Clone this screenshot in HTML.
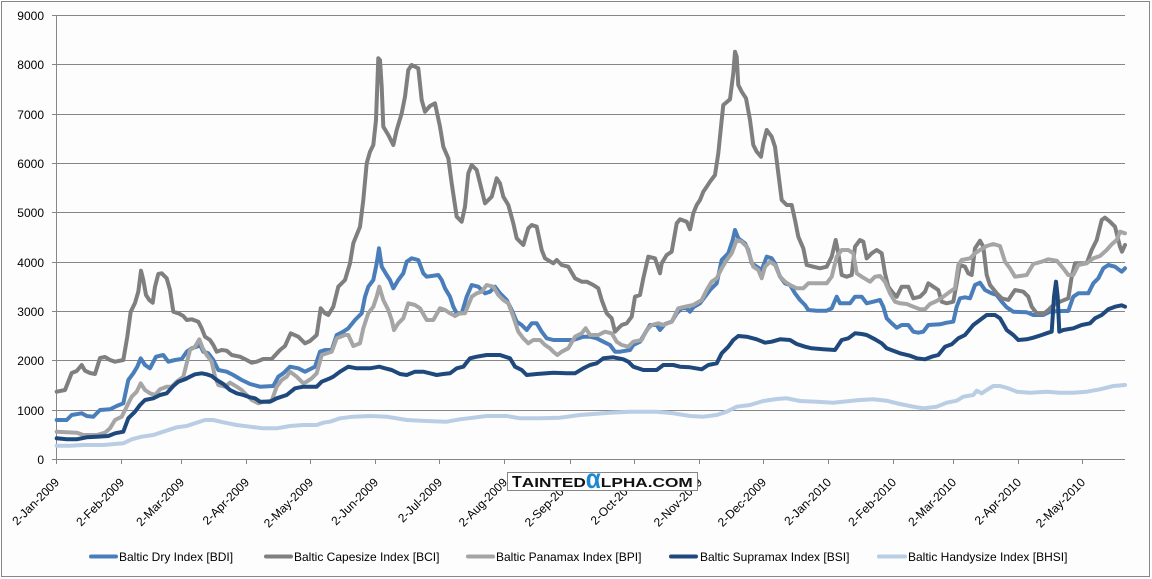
<!DOCTYPE html>
<html><head><meta charset="utf-8"><style>
html,body{margin:0;padding:0;background:#ffffff;}
svg{display:block;}
text{font-family:"Liberation Sans",Arial,sans-serif;}
</style></head><body>
<svg width="1152" height="579" viewBox="0 0 1152 579" xmlns="http://www.w3.org/2000/svg">
<rect x="1.5" y="1.5" width="1148" height="575" fill="#fcfdfc" stroke="#868686" stroke-width="1"/>
<g stroke="#868686" stroke-width="1" shape-rendering="crispEdges">
<line x1="56" y1="15.5" x2="1125" y2="15.5"/>
<line x1="56" y1="64.5" x2="1125" y2="64.5"/>
<line x1="56" y1="114.5" x2="1125" y2="114.5"/>
<line x1="56" y1="163.5" x2="1125" y2="163.5"/>
<line x1="56" y1="212.5" x2="1125" y2="212.5"/>
<line x1="56" y1="262.5" x2="1125" y2="262.5"/>
<line x1="56" y1="311.5" x2="1125" y2="311.5"/>
<line x1="56" y1="360.5" x2="1125" y2="360.5"/>
<line x1="56" y1="410.5" x2="1125" y2="410.5"/>
<line x1="52" y1="459.5" x2="1125" y2="459.5"/>
<line x1="56.5" y1="15" x2="56.5" y2="464"/>
<line x1="52" y1="15.5" x2="56" y2="15.5"/>
<line x1="52" y1="64.5" x2="56" y2="64.5"/>
<line x1="52" y1="114.5" x2="56" y2="114.5"/>
<line x1="52" y1="163.5" x2="56" y2="163.5"/>
<line x1="52" y1="212.5" x2="56" y2="212.5"/>
<line x1="52" y1="262.5" x2="56" y2="262.5"/>
<line x1="52" y1="311.5" x2="56" y2="311.5"/>
<line x1="52" y1="360.5" x2="56" y2="360.5"/>
<line x1="52" y1="410.5" x2="56" y2="410.5"/>
<line x1="121.5" y1="459" x2="121.5" y2="464"/>
<line x1="181.5" y1="459" x2="181.5" y2="464"/>
<line x1="246.5" y1="459" x2="246.5" y2="464"/>
<line x1="310.5" y1="459" x2="310.5" y2="464"/>
<line x1="375.5" y1="459" x2="375.5" y2="464"/>
<line x1="439.5" y1="459" x2="439.5" y2="464"/>
<line x1="504.5" y1="459" x2="504.5" y2="464"/>
<line x1="570.5" y1="459" x2="570.5" y2="464"/>
<line x1="634.5" y1="459" x2="634.5" y2="464"/>
<line x1="699.5" y1="459" x2="699.5" y2="464"/>
<line x1="763.5" y1="459" x2="763.5" y2="464"/>
<line x1="828.5" y1="459" x2="828.5" y2="464"/>
<line x1="893.5" y1="459" x2="893.5" y2="464"/>
<line x1="953.5" y1="459" x2="953.5" y2="464"/>
<line x1="1018.5" y1="459" x2="1018.5" y2="464"/>
<line x1="1082.5" y1="459" x2="1082.5" y2="464"/>
</g>
<g font-size="12" fill="#000" text-anchor="end">
<text x="44" y="20">9000</text>
<text x="44" y="69">8000</text>
<text x="44" y="119">7000</text>
<text x="44" y="168">6000</text>
<text x="44" y="217">5000</text>
<text x="44" y="267">4000</text>
<text x="44" y="316">3000</text>
<text x="44" y="365">2000</text>
<text x="44" y="415">1000</text>
<text x="44" y="464">0</text>
</g>
<g fill="none" stroke-width="4" stroke-linejoin="round" stroke-linecap="round">
<polyline stroke="#4a7ebb" points="56.7,420 66.7,420 71.7,415 81.7,413.3 86.7,416 93.3,416.7 100,410 110,409.3 116.7,406 123.3,403.3 128.3,380 133.3,373.3 137.3,366.7 140.7,358.3 145,365 150,368.3 156,356.7 163.3,355 168.3,361.7 175,360 181.7,359 186.7,351.7 191.7,348.3 196.7,346.7 200,345 203.3,351.7 208.3,353.3 213.3,360 218.3,370 226.7,371.7 233.3,375 241.7,380 250,384 260,386.7 273.3,386 278.3,376.7 283.3,373.3 290,366.7 298.3,368.3 305,371.7 315,366.7 320,351.7 325,350 331.7,350 336.7,335 343.3,331.7 348.3,328.3 355,320 361.7,313.3 365,296.7 368.3,286.7 373.3,280 376.7,263.3 379,248.3 381.7,266.7 386.7,275 390,280 393.3,288.3 398.3,280 403.3,273.3 406.7,261.7 411.7,258.3 418.3,260 423.3,273.3 426.7,276.7 438.3,275 441.7,280 445,288.3 450,296.7 453.3,306.7 456.7,313.3 461.7,313.3 466.7,296.7 471.7,285 478.3,286.7 485,293.3 490,291.7 495,286.7 500,293.3 506.7,300 511.7,310 516.7,321.7 521.7,325 526.7,330 531.7,323.3 536.7,323.3 541.7,331.7 546.7,338.3 553.3,340 560,340 573.3,340 583.3,336.7 590,336.7 596.7,338.3 603.3,341.7 610,345 615,351.7 620,351.7 630,350 633.3,345 640,341.7 645,333.3 650,325 656.7,325 660,330 665,324 671.7,321.7 676.7,313.3 681.7,308.3 686.7,308.3 690,311.7 693.3,307.3 700,303.3 705,296.7 710,290 716.7,283.3 721.7,260 728.3,253.3 732.7,240 735,230 738.3,238.3 745,243.3 748.3,250 751.7,263.3 756.7,266.7 761.7,270 766.7,256.7 771.7,258.3 775,263.3 780,276.7 785,283.3 790,285 795,293.3 800,300 805,305 808.3,310 816.7,310.7 826.7,310.7 831.7,308.3 836.7,296.7 840,303.3 850,303.3 855,296.7 861.7,296.7 866.7,303.3 873.3,301.7 880,300 883.3,306.7 886.7,318.3 891.7,323.3 896.7,327.7 901.7,325 908.3,325 913.3,331.7 918.3,332.7 923.3,331.7 928.3,325 940,324.3 946.7,322.7 953.3,321.7 956.7,306.7 960,298.3 965,297.3 970,298.3 975,285 980,282.7 985,290 991.7,293.3 996.7,295 1001.7,301.7 1006.7,307.3 1013.3,311.7 1026.7,312.3 1033.3,315 1043.3,315 1050,311.7 1060,311 1068.3,311 1073.3,296.7 1078.3,293.3 1088.3,293.3 1093.3,283.3 1098.3,278.3 1103.3,268.3 1108.3,265 1115,266.7 1121.7,271.7 1125,268.3"/>
<polyline stroke="#7f7f7f" points="56.7,391.7 65,390 71.7,373 76.7,371 81.7,365 85,370.7 90,373 95,374 100,358 105,357 110,360 115,361.7 123.3,360 127.3,336.7 130.7,311.7 135,303 138.3,291.7 141,270.7 143.3,280 146,295 149.3,300 152.7,302.7 155,286.7 158.3,274 161.7,273.3 166.7,278.3 170,290 173.3,311.7 178.3,313.3 183.3,316 186.7,320 191.7,319.3 198.3,321.7 201.7,328.3 205,336.7 210,340 213.3,345 216.7,351.7 221.7,350 226.7,350.7 231.7,355 240,356.7 246.7,360 251.7,362.7 256.7,361.7 263.3,359 271.7,359 280,350 285,346 290.7,333.3 298.3,336.7 305,343.3 310,341 316.7,335 320.7,308.3 325,313.3 328.3,315 333.3,306.7 338.3,286.7 345,280 350,263.3 353.3,243.3 360,226.7 363.3,200 366.7,163.3 370,151.7 373.3,145 376,120 378.3,58.3 380,60 381.7,86.7 383.3,126.7 388.3,135 393.3,145 396.7,130 401.7,113.3 405,96.7 408.3,70 411.7,65 418.3,68.3 421.7,100 425,111.7 430,106 435,103.3 440,126.7 443.3,146.7 448.3,158.3 451.7,183.3 456.7,216.7 461.7,221.7 465,206.7 468.3,173.3 471.7,165 476.7,170 481.7,190 485,203.3 491.7,196.7 496.7,178.3 500,183.3 503.3,196.7 508.3,205 513.3,223.3 516.7,238.3 523.3,245 528.3,228.3 531.7,225 536.7,226.7 541.7,250 545,258.3 553.3,263.3 556.7,260 561.7,265 568.3,266.7 575,278.3 581.7,281.7 586.7,281.7 593.3,285 598.3,288.3 601.7,300 606.7,313.3 611.7,318.3 615,331.7 618.3,328.3 621.7,325 626.7,323.3 631.7,316.7 635,296.7 640,295 643.3,278.3 648.3,256.7 655,258.3 660,273.3 661.7,263.3 666.7,255 671.7,251.7 676.7,223.3 680,219.3 686.7,221.7 690,229.3 693.3,213.3 696.7,205 700,200 703.3,191.7 706.7,186.7 710,181.7 715,175 718.3,153.3 721.7,120 723.3,105 730,99.3 733.3,73.3 735,51.7 736.7,56.7 738.3,85 741.7,91.7 746,98.3 750,120 753.3,145 756.7,151.7 761,156.7 763.3,143.3 766.7,130 771.7,136.7 775,146.7 778.3,173.3 781.7,200 786.7,205 791.7,205 795,220 798.3,236.7 803.3,248.3 806.7,265 813.3,266.7 820,268.3 826.7,266.7 831.7,256.7 835.7,240 838.3,253.3 841.7,275 846.7,276.7 851.7,275 855,246.7 860,240 863.3,241.7 866.7,258.3 871.7,253.3 876.7,250 881.7,253.3 885,273.3 888.3,286.7 893.3,293.3 896.7,296.7 901.7,286.7 908.3,286.7 913.3,298.3 920,296.7 925,291.7 928.3,283.3 933.3,286.7 938.3,290 941.7,301.7 946.7,303.3 953.3,301.7 956.7,283.3 960,265 965,266.7 968.3,273.3 971.7,275 975,248.3 980,240.7 983.3,246.7 986.7,275 990,285 996.7,293.3 1001.7,298.3 1008.3,300 1015,290 1023.3,291.7 1028.3,296.7 1031.7,306.7 1036.7,313.3 1043.3,314 1048.3,310 1053.3,305 1060,301.7 1068.3,298.3 1071.7,276.7 1075,263.3 1086.7,263.3 1091.7,250 1096.7,240 1101.7,220 1105,217.7 1110,221.7 1115,226.7 1120,246.7 1122,251.7 1125,245"/>
<polyline stroke="#a5a5a5" points="56.7,431.7 76.7,432.7 83.3,435 96.7,435 105,432.7 110,428.3 115,420 121.7,416.7 126.7,406.7 131.7,396.7 136.7,391.7 140.7,383.3 145,390 150,393.3 155,395 160,389.3 166.7,386.7 171.7,386.7 176.7,381.7 183.3,376.7 186.7,363.3 190,350 195,346.7 199.3,339.3 202.7,348.3 206.7,355 211.7,361.7 215,376.7 218.3,385 225,386.7 230,382.7 236.7,386.7 241.7,390 246.7,395 251.7,400 258.3,403.3 263.3,401.7 271.7,400.7 276.7,386.7 281.7,380 286.7,376.7 290,371.7 296.7,376.7 303.3,383.3 306.7,381.7 311.7,378.3 316.7,373.3 321.7,355 331.7,351.7 336.7,338.3 345,335 348.3,335 353.3,346 360,343.3 363.3,328.3 368.3,313.3 373.3,306.7 376.7,296.7 379.3,286.7 383.3,300 388.3,310 391.7,320 394,330 398.3,323.3 403.3,318.3 408.3,303.3 415,305 420,308.3 426.7,320 433.3,320 440,308.3 445,310 450,313.3 455,316 460,313.3 465,313.3 471.7,296.7 476.7,293.3 481.7,291.7 486.7,285 493.3,286.7 498.3,295 503.3,300 508.3,303.3 513.3,316.7 518.3,331.7 523.3,338.3 528.3,343.3 533.3,340 540,340 545,345 550,348.3 553.3,351.7 557.3,355 561.7,351.7 568.3,348.3 575,336.7 581.7,333.3 585.7,328.3 590,335 598.3,335 605,331.7 611.7,333.3 616.7,341.7 621.7,345 628.3,346.7 633.3,341.7 641.7,340 646.7,330 651.7,325 658.3,323.3 663.3,325 671.7,321.7 678.3,308.3 685,306.7 693.3,305 701.7,300 706.7,290 711.7,281.7 716.7,278.3 721.7,268.3 726.7,260 731.7,253.3 736.7,240 741.7,241.7 746.7,246.7 753.3,266.7 758.3,270 761.7,278.3 765,266.7 770,261.7 775,265 780,276.7 785,281.7 790,285 796.7,288.3 803.3,288.3 808.3,283.3 826.7,283.3 831.7,276.7 836.7,256.7 841.7,250 848.3,250 853.3,253.3 856.7,273.3 861.7,276.7 870,281.7 875,276.7 880,276 885,281.7 890,293.3 895,301.7 900,303.3 906.7,304 913.3,306.7 920,309.3 925,309.3 930,304 936.7,301 943.3,296.7 950,291.7 955,288.3 958.3,265 961.7,260 970,258.3 975,253.3 980,250 986.7,246 993.3,244 1000,246 1005,261.7 1010,268.3 1015,276.7 1020,276 1026.7,275 1033.3,264 1041.7,261.7 1048.3,259.3 1056.7,260.7 1063.3,268.3 1068.3,275 1073.3,275 1078.3,265 1086.7,263.3 1093.3,258.3 1100,256 1106.7,250 1111.7,244.3 1116.7,240 1120,231.7 1125,233.3"/>
<polyline stroke="#1f497d" points="56.7,438.3 66.7,439.3 76.7,439.3 86.7,437.3 96.7,436.7 108.3,436 115,433.3 123.3,431.7 128.3,418.3 135,411.7 140,405 145,400 153.3,398.3 160,395 166.7,393.3 173.3,386 178.3,381.7 185,379.3 190,376.7 195,374.3 201.7,373.3 206.7,374.3 211.7,376 216.7,380 223.3,384 230,390 236.7,393.3 243.3,395 250,397.3 255,398.3 260,401.7 270,401.7 276.7,398.3 286.7,395 295,388.3 303.3,386.7 316.7,386.7 321.7,381.7 330,378.3 333.3,376.7 340,371.7 348.3,366.7 356.7,368.3 370,368.3 379.3,366.7 385,368.3 391.7,370 400,374 406.7,375 415,371.7 423.3,371.7 430,373.3 436.7,375 443.3,374 450,373.3 456.7,368.3 463.3,366.7 470,358.3 476.7,356.7 486.7,355 500,355 510,358.3 515,366.7 521.7,370 526.7,375 536.7,374 553.3,372.7 566.7,373.3 575,373.3 583.3,368.3 590,365 596.7,363.3 603.3,358.3 613.3,357.3 623.3,359.3 628.3,361.7 633.3,366.7 643.3,370 656.7,370 663.3,365 673.3,365 680,366.7 690,367.3 701.7,369.3 708.3,365 716.7,363.3 721.7,353.3 728.3,346.7 733.3,340 738.3,336 746.7,336.7 756.7,339.3 765,342.7 771.7,341.7 780,339.3 790,340 796.7,344 805,346.7 811.7,348.3 823.3,349.3 835,350 841.7,340 848.3,338.3 855,333.3 861.7,334 866.7,335 875,339.3 881.7,343.3 886.7,348.3 893.3,350.7 900,353.3 910,355.7 916.7,358.3 925,359.3 931.7,356.7 938.3,355 945,346.7 951.7,344.3 958.3,338.3 965,335 973.3,325 980,320 986.7,315 995,315 1000,318.3 1006.7,330 1013.3,335 1018.3,340 1026.7,339.3 1033.3,337.7 1041.7,335 1048.3,332.7 1051.7,331.7 1054,296.7 1056,281.7 1057.7,296.7 1059.3,331.7 1063.3,330 1073.3,328.3 1081.7,325 1090,323.3 1095,318.3 1101.7,315 1108.3,309.3 1115,306.7 1121.7,305.3 1125,306.7"/>
<polyline stroke="#b9cde5" points="56.7,445.7 70,445.7 83.3,445 103.3,445 123.3,443.3 131.7,439.3 141.7,436.7 153.3,435 163.3,431.7 176.7,427.3 186.7,426 196.7,422.7 205,420 213.3,420 223.3,422.3 236.7,425 250,426.7 263.3,428.3 276.7,428.3 290,426 303.3,425 316.7,425 323.3,422.7 330,421.7 340,418.3 353.3,416.7 370,416 386.7,416.7 406.7,420 426.7,421 446.7,421.7 460,419.3 473.3,417.7 486.7,416 506.7,416 520,418.3 540,418.3 560,417.7 580,415 590,414.3 610,412.7 630,411.7 656.7,411.7 673.3,413.3 690,416 703.3,416.7 716.7,415 726.7,411.7 736.7,406.7 750,405 763.3,401 776.7,399 786.7,398.3 800,401 816.7,401.7 833.3,402.7 850,401 860,400 873.3,399.3 886.7,400.7 900,404 913.3,406.7 923.3,408.3 936.7,406.7 946.7,402.7 956.7,400.7 963.3,396.7 973.3,395 976.7,390.7 981.7,393.3 986.7,390 993.3,386 1000,386 1008.3,388.3 1016.7,391.7 1030,392.7 1046.7,391.7 1060,392.7 1073.3,392.7 1086.7,391.7 1100,389.3 1113.3,386 1125,385"/>
</g>
<g font-size="12" fill="#000" text-anchor="end">
<text transform="translate(60,483) rotate(-45)">2-Jan-2009</text>
<text transform="translate(125,483) rotate(-45)">2-Feb-2009</text>
<text transform="translate(185,483) rotate(-45)">2-Mar-2009</text>
<text transform="translate(250,483) rotate(-45)">2-Apr-2009</text>
<text transform="translate(314,483) rotate(-45)">2-May-2009</text>
<text transform="translate(379,483) rotate(-45)">2-Jun-2009</text>
<text transform="translate(443,483) rotate(-45)">2-Jul-2009</text>
<text transform="translate(508,483) rotate(-45)">2-Aug-2009</text>
<text transform="translate(574,483) rotate(-45)">2-Sep-2009</text>
<text transform="translate(638,483) rotate(-45)">2-Oct-2009</text>
<text transform="translate(703,483) rotate(-45)">2-Nov-2009</text>
<text transform="translate(767,483) rotate(-45)">2-Dec-2009</text>
<text transform="translate(832,483) rotate(-45)">2-Jan-2010</text>
<text transform="translate(897,483) rotate(-45)">2-Feb-2010</text>
<text transform="translate(957,483) rotate(-45)">2-Mar-2010</text>
<text transform="translate(1022,483) rotate(-45)">2-Apr-2010</text>
<text transform="translate(1086,483) rotate(-45)">2-May-2010</text>
</g>
<rect x="507.5" y="472.5" width="190" height="18" fill="#ffffff" stroke="#868686" stroke-width="1"/>
<text x="512" y="487" font-weight="bold" fill="#111"><tspan font-size="16">T</tspan><tspan font-size="13" textLength="64" lengthAdjust="spacingAndGlyphs">AINTED</tspan><tspan font-size="28" fill="#1e88d0" textLength="15" lengthAdjust="spacingAndGlyphs" dy="1">α</tspan><tspan font-size="13" dy="-1" textLength="92" lengthAdjust="spacingAndGlyphs">LPHA.COM</tspan></text>
<g stroke-width="4" stroke-linecap="round">
<line x1="91" y1="556.5" x2="116" y2="556.5" stroke="#4a7ebb"/>
<line x1="266" y1="556.5" x2="291" y2="556.5" stroke="#7f7f7f"/>
<line x1="468" y1="556.5" x2="493" y2="556.5" stroke="#a5a5a5"/>
<line x1="671" y1="556.5" x2="696" y2="556.5" stroke="#1f497d"/>
<line x1="879" y1="556.5" x2="905" y2="556.5" stroke="#b9cde5"/>
</g>
<g font-size="12" fill="#000">
<text x="119" y="561">Baltic Dry Index [BDI]</text>
<text x="294" y="561">Baltic Capesize Index [BCI]</text>
<text x="496" y="561">Baltic Panamax Index [BPI]</text>
<text x="700" y="561">Baltic Supramax Index [BSI]</text>
<text x="908" y="561">Baltic Handysize Index [BHSI]</text>
</g>
</svg>
</body></html>
